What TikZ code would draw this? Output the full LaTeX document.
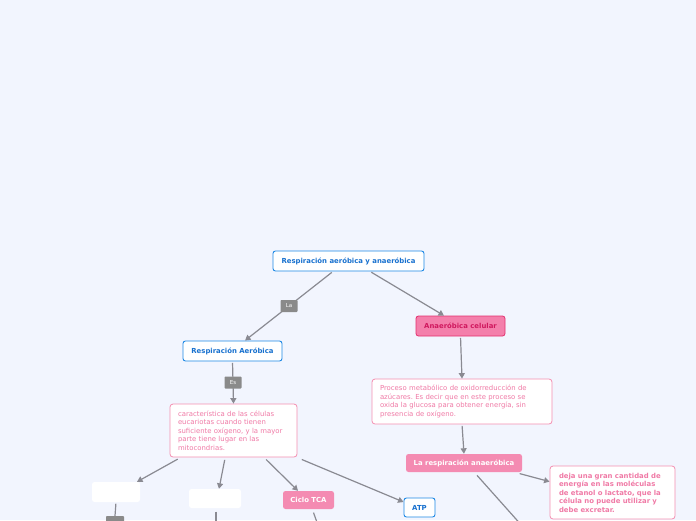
\documentclass[tikz,border=0pt]{standalone}
\usepackage{fontspec}
\setmainfont{DejaVu Sans}
\usetikzlibrary{arrows.meta}
\frenchspacing
\definecolor{bg}{HTML}{F2F5FE}
\definecolor{blueline}{HTML}{1E88E5}
\definecolor{bluetext}{HTML}{1871CF}
\definecolor{pinkfill}{HTML}{F48BB2}
\definecolor{pinkline}{HTML}{F48FB1}
\definecolor{pinktext}{HTML}{F07AA6}
\definecolor{ancfill}{HTML}{F47FAB}
\definecolor{ancline}{HTML}{E3306F}
\definecolor{anctext}{HTML}{D0185E}
\definecolor{conncol}{HTML}{8A8A92}
\definecolor{lblfill}{HTML}{8A8A8A}
\tikzset{
  bluebox/.style={draw=blueline, line width=0.9pt, fill=white, rounded corners=2.5pt, text=bluetext, inner sep=0pt, font=\fontsize{6.9}{8.5}\selectfont\bfseries},
  pinkbox/.style={fill=pinkfill, rounded corners=2.5pt, text=white, inner sep=0pt, font=\fontsize{6.9}{8.5}\selectfont\bfseries},
  ancbox/.style={fill=ancfill, draw=ancline, line width=0.8pt, rounded corners=2.5pt, text=anctext, inner sep=0pt, font=\fontsize{6.9}{8.5}\selectfont\bfseries},
  textbox/.style={fill=white, draw=pinkline, line width=0.8pt, rounded corners=3pt, text=pinktext, inner sep=0pt, align=left, font=\fontsize{6.9}{8.5}\selectfont},
  blankbox/.style={fill=white, rounded corners=2.5pt, inner sep=0pt},
  lbl/.style={fill=lblfill, text=white, rounded corners=0.8pt, inner sep=0pt, minimum width=17pt, minimum height=12pt, font=\fontsize{5.5}{6}\selectfont},
  conn/.style={draw=conncol, line width=1.2pt, shorten <=1.5pt},
  arr/.style={conn, -{Triangle[length=5.5pt,width=6pt]}},
}
\begin{document}
\begin{tikzpicture}[x=1pt,y=-1pt]
\useasboundingbox (0,0) rectangle (696,520);
\clip (0,0) rectangle (696,520);
\fill[bg] (0,0) rectangle (696,520);

% nodes
\node[bluebox, minimum width=151pt, minimum height=20pt] (root) at (348.5,261) {Respiración aeróbica y anaeróbica};
\node[bluebox, minimum width=99pt, minimum height=20pt] (aer) at (232.5,351) {Respiración Aeróbica};
\node[textbox, minimum width=127pt, minimum height=53pt, text width=111pt] (car) at (233.5,430.5) {característica de las células\\ eucariotas cuando tienen\\ suficiente oxígeno, y la mayor\\ parte tiene lugar en las\\ mitocondrias.};
\node[blankbox, minimum width=48pt, minimum height=20pt] (blank1) at (116,492) {};
\node[blankbox, minimum width=52pt, minimum height=19pt] (blank2) at (215,498.5) {};
\node[pinkbox, minimum width=51pt, minimum height=18pt] (tca) at (308.5,500) {Ciclo TCA};
\node[bluebox, minimum width=31pt, minimum height=19pt] (atp) at (419.5,507.5) {ATP};
\node[fill=lblfill, rounded corners=0.8pt, minimum width=18pt, minimum height=12pt, inner sep=0pt] (grayb) at (115,522) {};
\node[ancbox, minimum width=89pt, minimum height=20pt] (anc) at (460.5,326) {Anaeróbica celular};
\node[textbox, minimum width=180pt, minimum height=45pt, text width=164pt] (proc) at (462,401.5) {Proceso metabólico de oxidorreducción de\\ azúcares. Es decir que en este proceso se\\ oxida la glucosa para obtener energía, sin\\ presencia de oxígeno.};
\node[pinkbox, minimum width=116pt, minimum height=18pt] (lra) at (464,463) {La respiración anaeróbica};
\node[textbox, minimum width=125pt, minimum height=53pt, text width=107pt, font=\fontsize{6.9}{8.5}\selectfont\bfseries] (deja) at (612.5,492.5) {deja una gran cantidad de\\ energía en las moléculas\\ de etanol o lactato, que la\\ célula no puede utilizar y\\ debe excretar.};

% off-picture ends
\coordinate (offlra) at (540,546);
\coordinate (offtca) at (319,528);
\coordinate (offb2) at (216,528);

% connectors
\draw[arr] ([shift={(-15.5,0)}]root.south) -- node[lbl] (la) {La} ([shift={(12.5,0)}]aer.north);
\draw[arr] ([shift={(21.5,0)}]root.south) -- ([shift={(-16.5,0)}]anc.north);
\draw[arr] (aer.south) -- node[lbl] (es) {Es} (car.north);
\draw[arr] ([shift={(-54.5,1)}]car.south) -- ([shift={(21,0)}]blank1.north);
\draw[arr] ([shift={(-8.5,1)}]car.south) -- ([shift={(4,0)}]blank2.north);
\draw[arr] ([shift={(31.5,1)}]car.south) -- ([shift={(-10.5,0)}]tca.north);
\draw[arr] ([shift={(3,1.5)}]car.south east) -- ([shift={(0,-5.5)}]atp.west);
\draw[arr] (anc.south) -- (proc.north);
\draw[arr] (proc.south) -- (lra.north);
\draw[arr] ([shift={(-4,1)}]lra.south east) -- ([shift={(0,16)}]deja.north west);
\draw[conn] ([shift={(12,2)}]lra.south) -- (offlra);
\draw[conn] ([shift={(4.5,2)}]tca.south) -- (offtca);
\draw[conn] ([shift={(1,2)}]blank2.south) -- (offb2);
\draw[conn] (blank1.south) -- (grayb.north);
\end{tikzpicture}
\end{document}
